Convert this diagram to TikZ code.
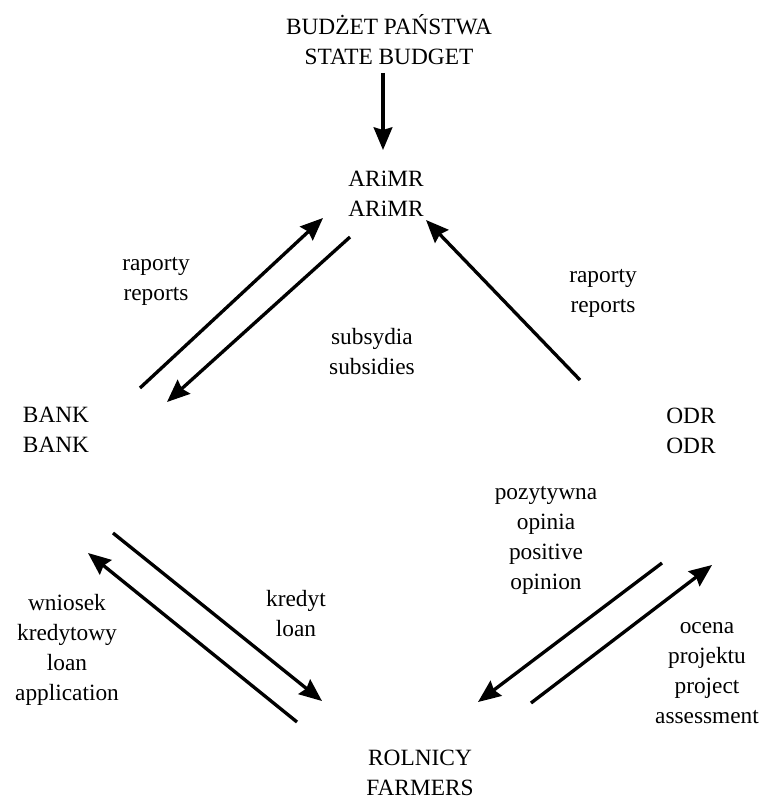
\documentclass[tikz,border=0pt]{standalone}
\usepackage{fontspec}
\setmainfont{Liberation Serif}
\usetikzlibrary{arrows.meta}

\begin{document}
\begin{tikzpicture}[
    x=0.75pt, y=-0.75pt,
    txt/.style={align=center, inner sep=0pt, font={\rmfamily\fontsize{17.5}{22.5}\selectfont}},
    arr/.style={-{Stealth[length=17pt, width=14pt, inset=2pt]}, line width=2.5pt}
  ]
    \useasboundingbox (0,0) rectangle (769,799);

    % main units
    \node[txt] (budget) at (389,40) {BUDŻET PAŃSTWA\\STATE BUDGET};
    \node[txt] (arimr) at (386,194) {ARiMR\\ARiMR};
    \node[txt] (bank) at (56,430) {BANK\\BANK};
    \node[txt] (odr) at (691,431) {ODR\\ODR};
    \node[txt] (farmers) at (420,773) {ROLNICY\\FARMERS};

    % flow labels
    \node[txt] (replab) at (156,281) {raporty\\reports};
    \node[txt] (sublab) at (372,352) {subsydia\\subsidies};
    \node[txt] (reprab) at (603,293) {raporty\\reports};
    \node[txt] (opilab) at (546,540) {pozytywna\\opinia\\positive\\opinion};
    \node[txt] (wnilab) at (67,650) {wniosek\\kredytowy\\loan\\application};
    \node[txt] (krelab) at (296,614) {kredyt\\loan};
    \node[txt] (ocelab) at (707,673) {ocena\\projektu\\project\\assessment};

    % arrow ends
    \coordinate (bud-s) at (383,73);
    \coordinate (bud-e) at (383,150);
    \coordinate (rep-s) at (140,388);
    \coordinate (rep-e) at (323,218);
    \coordinate (sub-s) at (350,237);
    \coordinate (sub-e) at (167,402);
    \coordinate (odr-s) at (580,380);
    \coordinate (odr-e) at (426,220);
    \coordinate (kre-s) at (113,533);
    \coordinate (kre-e) at (322,701);
    \coordinate (wni-s) at (297,722);
    \coordinate (wni-e) at (88,553);
    \coordinate (opi-s) at (662,563);
    \coordinate (opi-e) at (478,702);
    \coordinate (oce-s) at (531,703);
    \coordinate (oce-e) at (712,565);

    \draw[arr] (bud-s) -- (bud-e);
    \draw[arr] (rep-s) -- (rep-e);
    \draw[arr] (sub-s) -- (sub-e);
    \draw[arr] (odr-s) -- (odr-e);
    \draw[arr] (kre-s) -- (kre-e);
    \draw[arr] (wni-s) -- (wni-e);
    \draw[arr] (opi-s) -- (opi-e);
    \draw[arr] (oce-s) -- (oce-e);
\end{tikzpicture}
\end{document}
